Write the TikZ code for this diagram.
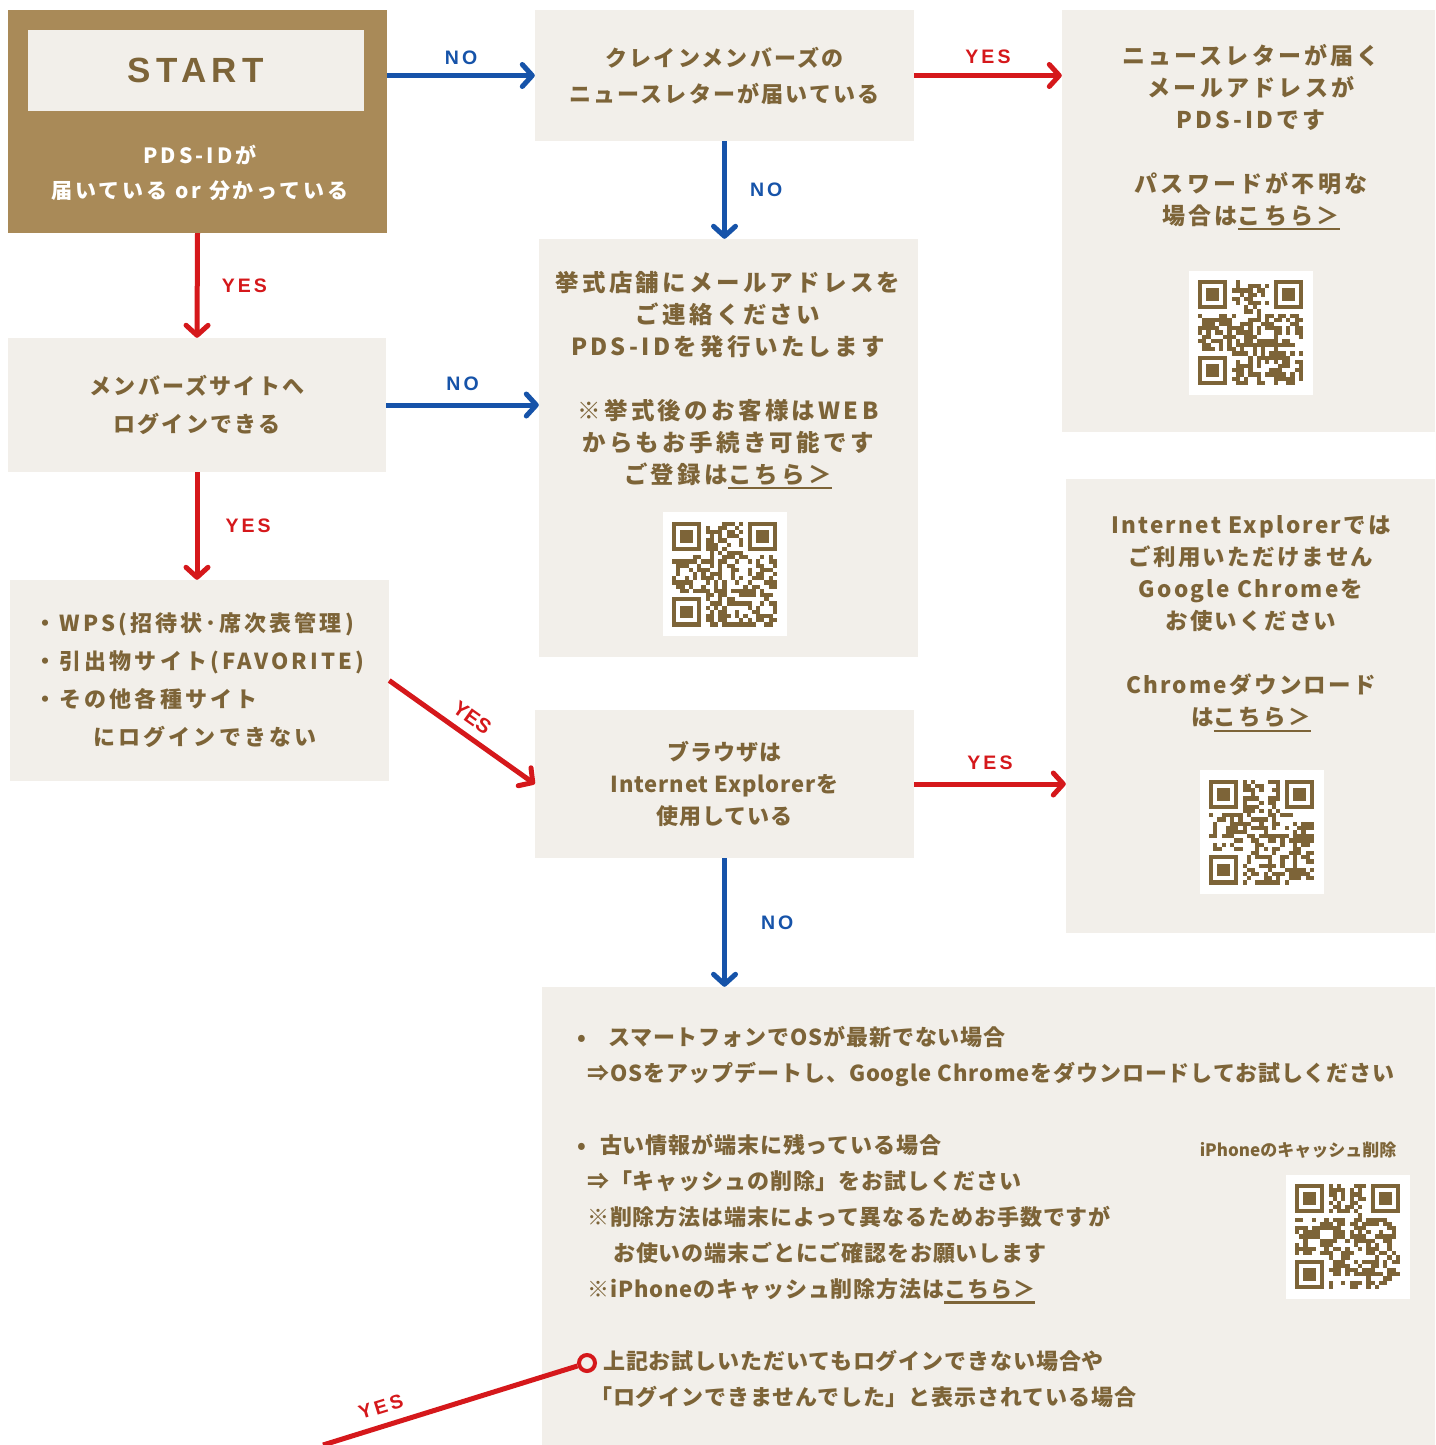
\documentclass[tikz,border=0pt]{standalone}
\usepackage{fontspec}
\setmainfont{Noto Sans CJK JP}
\newfontfamily\jpwide{Noto Sans CJK JP}[LetterSpace=10]
\newfontfamily\jpwider{Noto Sans CJK JP}[LetterSpace=14]
\newfontfamily\jpmid{Noto Sans CJK JP}[LetterSpace=4]
\newfontfamily\latin{Liberation Sans}[LetterSpace=16]
\newfontfamily\latinplain{Liberation Sans}
\usepackage{tikz}
\usetikzlibrary{positioning,arrows.meta}

\definecolor{gold}{HTML}{A98A58}
\definecolor{paper}{HTML}{F2EFEA}
\definecolor{ink}{HTML}{7D6438}
\definecolor{noblue}{HTML}{1653A9}
\definecolor{yesred}{HTML}{D5181B}

% underlined link text
\newcommand{\linktext}[1]{\setbox0\hbox{#1}\rlap{\rule[-6pt]{\wd0}{2.2pt}}\box0}

\tikzset{
	box/.style={fill=paper, inner sep=0pt, align=center, text=ink},
	yesline/.style={draw=yesred, line width=5pt, ->},
	noline/.style={draw=noblue, line width=5pt, ->},
	yeslbl/.style={text=yesred, inner sep=0pt, font=\latin\bfseries\fontsize{19.5}{22}\selectfont},
	nolbl/.style={text=noblue, inner sep=0pt, font=\latin\bfseries\fontsize{19.5}{22}\selectfont},
	qr/.pic={
		\pgfmathsetseed{#1}
		\fill[white] (-62,-62) rectangle (62,62);
		\foreach \i in {0,...,24}
			\foreach \j in {0,...,24}{
				\pgfmathtruncatemacro\qron{(rnd<0.52)&&!((\i<8&&\j<8)||(\i>16&&\j<8)||(\i<8&&\j>16))}
				\ifnum\qron=1 \fill[ink] (-52.5+4.2*\i,-52.5+4.2*\j) rectangle ++(4.2,4.2);\fi
			}
		\foreach \a/\b in {0/0,18/0,0/18}{
			\fill[ink] (-52.5+4.2*\a,-52.5+4.2*\b) rectangle ++(29.4,29.4);
			\fill[white] (-48.3+4.2*\a,-48.3+4.2*\b) rectangle ++(21,21);
			\fill[ink] (-44.1+4.2*\a,-44.1+4.2*\b) rectangle ++(12.6,12.6);
		}
	}
}

\begin{document}
\begin{tikzpicture}[x=1pt, y=-1pt, >={Straight Barb[length=10pt, width=22pt, round]}]
	\useasboundingbox (0,0) rectangle (1435,1445);
	\fill[white] (0,0) rectangle (1435,1445);

	% Start
	\node[fill=gold, minimum width=379pt, minimum height=223pt, inner sep=0pt] (start) at (197.5,121.5) {};
	\node[fill=paper, minimum width=336pt, minimum height=81pt, inner sep=0pt,
		  text=ink, font=\latin\bfseries\fontsize{35}{40}\selectfont] (startlbl) at (196,70.5) {START};
	\node[text=white, align=center, inner sep=0pt,
		  font=\jpwider\bfseries\fontsize{21}{35}\selectfont] (startq) at (200,172.5)
		{PDS-IDが\\届いている or 分かっている};

	% Questions
	\node[box, minimum width=379pt, minimum height=131pt,
		  font=\jpwide\bfseries\fontsize{22}{36}\selectfont] (news) at (724.5,75.5)
		{クレインメンバーズの\\ニュースレターが届いている};
	\node[box, minimum width=378pt, minimum height=134pt,
		  font=\jpwide\bfseries\fontsize{22}{38}\selectfont] (login) at (197,405)
		{メンバーズサイトへ\\ログインできる};
	\node[box, minimum width=379pt, minimum height=201pt, align=left,
		  font=\jpwider\bfseries\fontsize{22}{38}\selectfont] (sites) at (199.5,680.5)
		{・WPS(招待状･席次表管理)\\・引出物サイト(FAVORITE)\\・その他各種サイト\\\hspace*{59pt}にログインできない};
	\node[box, minimum width=379pt, minimum height=148pt,
		  font=\jpmid\bfseries\fontsize{22}{32}\selectfont] (browser) at (724.5,784)
		{ブラウザは\\Internet Explorerを\\使用している};

	% Answers
	\node[box, minimum width=373pt, minimum height=422pt] (pdsid) at (1248.5,221) {};
	\node[text=ink, align=center, inner sep=0pt,
		  font=\jpwider\bfseries\fontsize{23}{32}\selectfont] (pdsidtxt) at (1251,137)
		{ニュースレターが届く\\メールアドレスが\\PDS-IDです\\[32pt]パスワードが不明な\\場合は\linktext{こちら＞}};
	\pic at (1250.5,332.5) {qr=11};

	\node[box, minimum width=379pt, minimum height=418pt] (shop) at (728.5,448) {};
	\node[text=ink, align=center, inner sep=0pt,
		  font=\jpwider\bfseries\fontsize{23.5}{32}\selectfont] (shoptxt) at (728,380)
		{挙式店舗にメールアドレスを\\ご連絡ください\\PDS-IDを発行いたします\\[32pt]※挙式後のお客様はWEB\\からもお手続き可能です\\ご登録は\linktext{こちら＞}};
	\pic at (724.5,574) {qr=23};

	\node[box, minimum width=369pt, minimum height=454pt] (ie) at (1250.5,706) {};
	\node[text=ink, align=center, inner sep=0pt,
		  font=\jpwide\bfseries\fontsize{22.5}{32}\selectfont] (ietxt) at (1251,624)
		{Internet Explorerでは\\ご利用いただけません\\Google Chromeを\\お使いください\\[32pt]Chromeダウンロード\\は\linktext{こちら＞}};
	\pic at (1261.5,832) {qr=37};

	\node[box, minimum width=893pt, minimum height=458pt] (tips) at (988.5,1216) {};
	\node[text=ink, align=left, inner sep=0pt, anchor=west,
		  font=\jpmid\bfseries\fontsize{22}{36}\selectfont] (tipstxt) at (577,1217)
		{•\hspace{22pt}スマートフォンでOSが最新でない場合\\
		 \hspace*{10pt}⇒OSをアップデートし、Google Chromeをダウンロードしてお試しください\\[36pt]
		 •\hspace{14pt}古い情報が端末に残っている場合\\
		 \hspace*{10pt}⇒「キャッシュの削除」をお試しください\\
		 \hspace*{10pt}※削除方法は端末によって異なるためお手数ですが\\
		 \hspace*{36pt}お使いの端末ごとにご確認をお願いします\\
		 \hspace*{10pt}※iPhoneのキャッシュ削除方法は\linktext{こちら＞}\\[36pt]
		 \hspace*{26pt}上記お試しいただいてもログインできない場合や\\
		 \hspace*{13pt}「ログインできませんでした」と表示されている場合};
	\node[text=ink, inner sep=0pt, font=\bfseries\fontsize{17}{20}\selectfont] (iphone) at (1298,1150)
		{iPhoneのキャッシュ削除};
	\pic at (1347.5,1236.5) {qr=41};

	% Connectors
	\draw[noline] (start.east |- news.west) -- node[nolbl, above=8pt] {NO} (news.west);
	\draw[yesline] (news.east) -- node[yeslbl, above=9pt] {YES} (pdsid.west |- news.east);
	\draw[noline] (news.south) -- node[nolbl, right=23pt] {NO} (shop.north -| news.south);
	\draw[yesline] (start.south) -- node[yeslbl, right=22pt] {YES} (login.north);
	\draw[noline] (login.east) -- node[nolbl, above=12pt] {NO} (shop.west |- login.east);
	\draw[yesline] (login.south) -- node[yeslbl, right=26pt] {YES} (login.south |- sites.north);
	\draw[yesline] (sites.east) -- node[yeslbl, sloped, above=8pt,
		font=\latinplain\bfseries\fontsize{20.5}{22}\selectfont] {YES} (browser.west);
	\draw[yesline] (browser.east) -- node[yeslbl, above=12pt] {YES} (ie.west |- browser.east);
	\draw[noline] (browser.south) -- node[nolbl, right=34pt] {NO} (tips.north -| browser.south);

	\node[circle, draw=yesred, fill=paper, line width=4pt, minimum size=16pt, inner sep=0pt] (dot) at (587,1363) {};
	\coordinate (yesend) at (323,1445);
	\draw[draw=yesred, line width=5pt] (yesend) -- node[yeslbl, sloped, pos=0.25, above=10pt] {YES} (dot);
\end{tikzpicture}
\end{document}
